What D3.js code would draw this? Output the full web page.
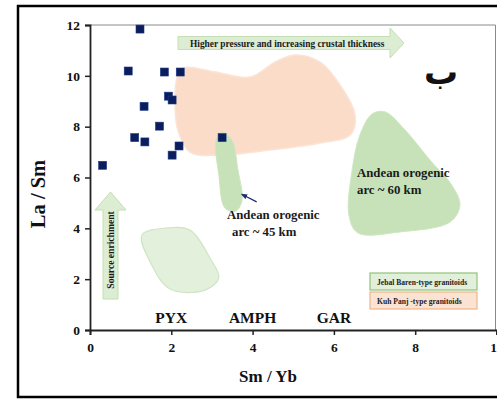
<!DOCTYPE html>
<html>
<head>
<meta charset="utf-8">
<script src="https://cdn.jsdelivr.net/npm/d3@7"></script>
<style>
  html, body { margin: 0; padding: 0; background: #fff; }
  svg { display: block; font-family: "Liberation Serif", "Times New Roman", serif; font-weight: bold; }
</style>
</head>
<body>
<svg id="chart" width="497" height="399"></svg>
<script>
// Sm/Yb vs La/Sm samples (Kuh Panj-type granitoids)
const smYb = [1.23, 0.94, 1.83, 2.22, 1.93, 2.02, 1.33, 1.71, 1.10, 1.35, 2.19, 2.02, 0.31, 3.25];
const laSm = [11.84, 10.19, 10.15, 10.15, 9.20, 9.05, 8.80, 8.02, 7.57, 7.40, 7.24, 6.88, 6.48, 7.57];

const xTicks = [0, 2, 4, 6, 8, 10];
const yTicks = [0, 2, 4, 6, 8, 10, 12];

// Field outlines in data units [Sm/Yb, La/Sm]
const kuhPanjField = [[2.29,10.31],[3.08,10.15],[3.94,9.95],[4.55,10.54],[5.04,10.82],[5.66,10.54],[6.15,9.64],[6.52,8.46],[6.40,7.67],[5.66,7.36],[4.43,7.08],[3.20,6.88],[2.46,7.00],[2.16,7.87],[2.09,9.05],[2.14,9.91]];
const arc45Field = [[3.10,7.47],[3.25,7.79],[3.49,7.47],[3.64,6.29],[3.74,5.11],[3.59,4.68],[3.32,4.80],[3.17,6.10]];
const arc60Field = [[6.94,8.50],[7.26,8.58],[7.75,7.87],[8.36,6.69],[8.90,5.70],[9.10,4.92],[8.86,4.25],[7.63,3.86],[6.59,3.82],[6.37,4.52],[6.45,6.29],[6.64,7.67]];
const pyxField = [[1.28,3.74],[1.85,4.01],[2.46,3.93],[2.95,2.83],[3.17,2.05],[2.83,1.57],[1.97,1.61],[1.48,2.68]];

const mineralLabels = ["PYX", "AMPH", "GAR"];
const mineralX = [2, 4, 6];

const svg = d3.select("#chart");

const x = d3.scaleLinear().domain([0, 10]).range([90, 496.5]);
const y = d3.scaleLinear().domain([0, 12]).range([330, 25]);

// outer frame
svg.append("rect").attr("x", 18).attr("y", 6).attr("width", 520).attr("height", 391)
  .attr("fill", "none").attr("stroke", "#000").attr("stroke-width", 2.5);

// plot area border (top/right)
svg.append("path")
  .attr("d", `M${x(0)},${y(12)}H${x(10) - 1}V${y(0)}`)
  .attr("fill", "none").attr("stroke", "#8a8a8a").attr("stroke-width", 1);

const line = d3.line().x(d => x(d[0])).y(d => y(d[1])).curve(d3.curveCatmullRomClosed.alpha(0.5));

svg.append("path").datum(kuhPanjField).attr("d", line)
  .attr("fill", "#fbdcc9").attr("stroke", "#fbe3d5").attr("stroke-width", 1.5);
svg.append("path").datum(arc45Field).attr("d", line)
  .attr("fill", "#c7e2b8").attr("stroke", "#cfe6c2").attr("stroke-width", 1);
svg.append("path").datum(arc60Field).attr("d", line)
  .attr("fill", "#c7e2b8").attr("stroke", "#cfe6c2").attr("stroke-width", 1);
svg.append("path").datum(pyxField).attr("d", line)
  .attr("fill", "#e3f0dc").attr("stroke", "#cfe5c4").attr("stroke-width", 1.2);

// horizontal block arrow
const hx0 = 178, hx1 = 390, hTip = 404, hb0 = 36.5, hb1 = 49.5, hh0 = 28, hh1 = 58;
svg.append("path")
  .attr("d", `M${hx0},${hb0}H${hx1}V${hh0}L${hTip},${(hh0 + hh1) / 2}L${hx1},${hh1}V${hb1}H${hx0}Z`)
  .attr("fill", "#dcedd4").attr("stroke", "#c3dfb3").attr("stroke-width", 1);
svg.append("text").attr("x", 190).attr("y", 46.5)
  .attr("font-size", 9.4).attr("fill", "#1a1a1a")
  .text("Higher pressure and increasing crustal thickness");

// vertical block arrow
const vx0 = 103, vx1 = 118, vh0 = 95, vh1 = 126, vBase = 299, vHead = 210, vTip = 192;
svg.append("path")
  .attr("d", `M${vx0},${vBase}V${vHead}H${vh0}L${(vh0 + vh1) / 2},${vTip}L${vh1},${vHead}H${vx1}V${vBase}Z`)
  .attr("fill", "#dcedd4").attr("stroke", "#c3dfb3").attr("stroke-width", 1);
svg.append("text")
  .attr("transform", `translate(${(vx0 + vx1) / 2 + 3.2},${250}) rotate(-90)`)
  .attr("text-anchor", "middle").attr("font-size", 9.6).attr("fill", "#1a1a1a")
  .text("Source enrichment");

// axes
const xAxis = d3.axisBottom(x).tickValues(xTicks).tickSize(5).tickFormat(d3.format("d"));
const yAxis = d3.axisLeft(y).tickValues(yTicks).tickSize(5).tickFormat(d3.format("d"));

const gx = svg.append("g").attr("transform", `translate(0,${y(0)})`).call(xAxis);
const gy = svg.append("g").attr("transform", `translate(${x(0)},0)`).call(yAxis);
[gx, gy].forEach(g => {
  g.select(".domain").attr("stroke", "#222").attr("stroke-width", 1.8);
  g.selectAll(".tick line").attr("stroke", "#222").attr("stroke-width", 1.5);
  g.selectAll("text").attr("font-family", "Liberation Serif, serif").attr("font-weight", "bold")
    .attr("font-size", 13.5).attr("fill", "#111");
});
gx.selectAll(".tick text").attr("dy", "1.05em");
gy.selectAll(".tick text").attr("x", -10);

// axis titles
svg.append("text").attr("x", 268).attr("y", 382).attr("text-anchor", "middle")
  .attr("font-size", 17).attr("fill", "#111").text("Sm / Yb");
svg.append("text").attr("transform", `translate(45,194) rotate(-90)`).attr("text-anchor", "middle")
  .attr("font-size", 20.5).attr("fill", "#111").text("La / Sm");

// mineral labels
svg.selectAll("text.mineral").data(mineralLabels).enter().append("text")
  .attr("class", "mineral")
  .attr("x", (d, i) => x(mineralX[i])).attr("y", 323).attr("text-anchor", "middle")
  .attr("font-size", 15.5).attr("fill", "#111").text(d => d);

// samples
const sq = 8;
svg.selectAll("rect.sample").data(smYb).enter().append("rect")
  .attr("class", "sample")
  .attr("x", (d, i) => x(d) - sq / 2).attr("y", (d, i) => y(laSm[i]) - sq / 2)
  .attr("width", sq).attr("height", sq)
  .attr("fill", "#0b1d5a").attr("stroke", "#1b3a8a").attr("stroke-width", 0.6);

// arrow pointing at the 45 km field
svg.append("defs").append("marker").attr("id", "ah").attr("viewBox", "0 0 10 10")
  .attr("refX", 5).attr("refY", 5).attr("markerWidth", 5).attr("markerHeight", 5).attr("orient", "auto")
  .append("path").attr("d", "M0,1L10,5L0,9Z").attr("fill", "#1b2f6e");
svg.append("line").attr("x1", x(4.1)).attr("y1", y(5.04)).attr("x2", x(3.78)).attr("y2", y(5.30))
  .attr("stroke", "#1b2f6e").attr("stroke-width", 1.3).attr("marker-end", "url(#ah)");

// field annotations
svg.append("text").attr("x", 227).attr("y", 219).attr("font-size", 12.8).attr("fill", "#1a1a1a").text("Andean orogenic");
svg.append("text").attr("x", 232).attr("y", 236).attr("font-size", 12.8).attr("fill", "#1a1a1a").text("arc ~ 45 km");
svg.append("text").attr("x", 357).attr("y", 177).attr("font-size", 12.8).attr("fill", "#1a1a1a").text("Andean orogenic");
svg.append("text").attr("x", 357).attr("y", 194).attr("font-size", 12.8).attr("fill", "#1a1a1a").text("arc ~ 60 km");

// panel letter
svg.append("text").attr("x", 441).attr("y", 84).attr("text-anchor", "middle")
  .attr("font-family", "DejaVu Sans, sans-serif").attr("font-size", 34).attr("fill", "#111").text("ب");

// legend
const legendItems = ["Jebal Baren-type granitoids", "Kuh Panj -type granitoids"];
const legendFill = ["#e2efda", "#fbe3d4"];
const legendStroke = ["#8fc478", "#f2b48c"];
const lg = svg.selectAll("g.leg").data(legendItems).enter().append("g").attr("class", "leg")
  .attr("transform", (d, i) => `translate(370,${273 + i * 19})`);
lg.append("rect").attr("width", 107).attr("height", 17)
  .attr("fill", (d, i) => legendFill[i]).attr("stroke", (d, i) => legendStroke[i]).attr("stroke-width", 1.2);
lg.append("text").attr("x", 7).attr("y", 11.5).attr("font-size", 7.6).attr("fill", "#222").text(d => d);
</script>
</body>
</html>
